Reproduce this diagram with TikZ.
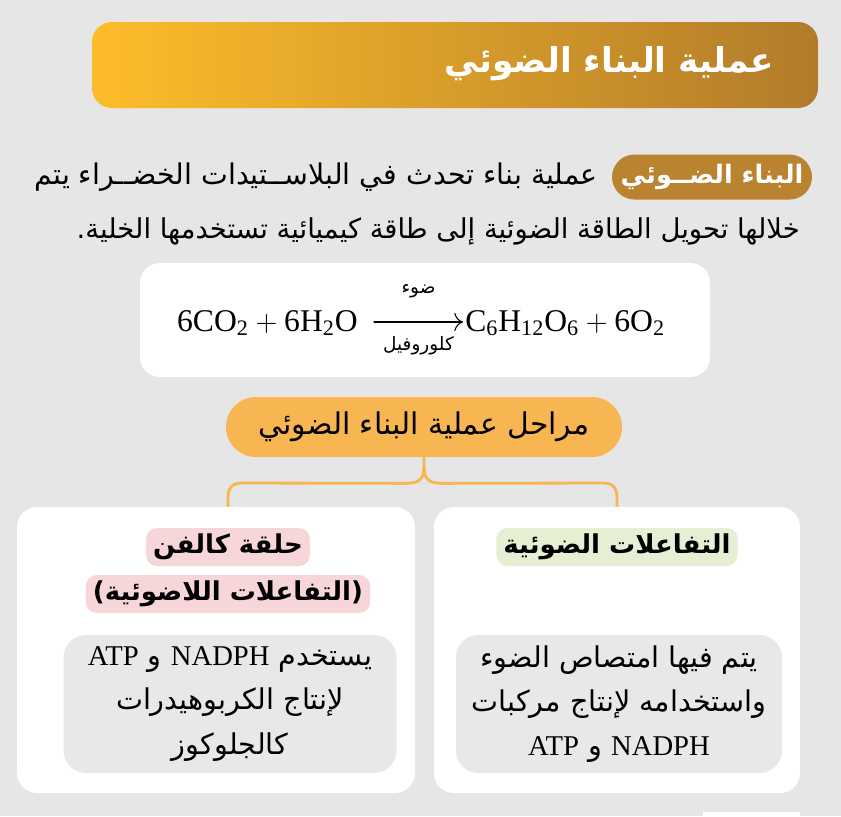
\documentclass[tikz,border=0pt]{standalone}
\usepackage{amsmath}
\usepackage{fontspec}
\setmainfont{Liberation Serif}
\newfontfamily\arabicfont[Script=Arabic]{DejaVu Sans}
\TeXXeTstate=1
\usetikzlibrary{calc,arrows.meta}

\definecolor{bggray}{HTML}{E6E6E6}
\definecolor{goldA}{HTML}{FDBD2A}
\definecolor{goldB}{HTML}{B27B2A}
\definecolor{badgebrown}{HTML}{B9832F}
\definecolor{stageorange}{HTML}{F8B652}
\definecolor{tagpink}{HTML}{F7D6D9}
\definecolor{taggreen}{HTML}{E6EFD4}
\definecolor{innergray}{HTML}{E8E8E8}

\def\px{0.02cm}
\newcommand{\lat}[1]{\beginL{\rmfamily #1}\endL{}}

\begin{document}
\begin{tikzpicture}[x=0.02cm,y=-0.02cm,line join=round,line cap=round,
	whitebox/.style={fill=white,rounded corners=0.4cm,inner sep=0pt},
	graybox/.style={fill=innergray,rounded corners=0.45cm,inner sep=0pt},
	tagbox/.style={rounded corners=0.22cm,inner xsep=4pt,inner ysep=0pt,minimum height=38*\px,
		font=\arabicfont\bfseries\fontsize{14.8}{17}\selectfont},
	bodytext/.style={font=\arabicfont\fontsize{16.2}{18}\selectfont,inner sep=0pt},
	boxtext/.style={font=\arabicfont\fontsize{16.3}{25.2}\selectfont,align=center,inner sep=0pt},
	eqtext/.style={font=\fontsize{18}{22}\selectfont,inner sep=0pt},
	armlabel/.style={font=\arabicfont\fontsize{10.5}{12}\selectfont,inner sep=0pt}]
	% nền
	\useasboundingbox (0,0) rectangle (841,816);
	\fill[bggray] (0,0) rectangle (841,816);
	\fill[white] (703,812) rectangle (800,816);
	% tiêu đề
	\node[rounded corners=0.4cm,left color=goldA,right color=goldB,minimum width=726*\px,minimum height=86*\px] (banner) at (455,65) {};
	\node[anchor=east,text=white,font=\arabicfont\bfseries\fontsize{19.5}{22}\selectfont] (title) at (780,64) {\beginR عملية البناء الضوئي\endR};
	% định nghĩa
	\node[fill=badgebrown,rounded corners=0.45cm,minimum width=200*\px,minimum height=45*\px,text=white,
		font=\arabicfont\bfseries\fontsize{14.5}{18}\selectfont] (badge) at (712,177) {\beginR البناء الضــوئي\endR};
	\node[bodytext,anchor=east] (lineA) at (598,177) {\beginR عملية بناء تحدث في البلاســتيدات الخضــراء يتم\endR};
	\node[bodytext,anchor=east,font=\arabicfont\fontsize{15.6}{18}\selectfont] (lineB) at (800,231) {\beginR خلالها تحويل الطاقة الضوئية إلى طاقة كيميائية تستخدمها الخلية.\endR};
	% phương trình
	\node[whitebox,minimum width=570*\px,minimum height=114*\px] (eqbox) at (425,320) {};
	\node[eqtext,anchor=base east] (lhs) at (358,331) {$\mathrm{6CO_2}+\mathrm{6H_2O}$};
	\node[eqtext,anchor=base west] (rhs) at (465,331) {$\mathrm{C_6H_{12}O_6}+\mathrm{6O_2}$};
	\coordinate (arrA) at (374,322);
	\coordinate (arrB) at (463,322);
	\draw[-{To[length=5pt]},line width=0.6pt] (arrA)--(arrB);
	\node[armlabel] (light) at ($(arrA)!0.5!(arrB)+(0,-31)$) {\beginR ضوء\endR};
	\node[armlabel] (chloro) at ($(arrA)!0.5!(arrB)+(0,24)$) {\beginR كلوروفيل\endR};
	% các giai đoạn
	\node[fill=stageorange,rounded corners=0.6cm,minimum width=396*\px,minimum height=60*\px,
		font=\arabicfont\fontsize{17}{20}\selectfont] (stages) at (424,427) {\beginR مراحل عملية البناء الضوئي\endR};
	\coordinate (fork) at ($(stages.south)+(0,9)$);
	\draw[stageorange,line width=1.6pt] (stages.south)--(fork)
		.. controls ($(fork)+(0,14)$) and ($(fork)+(-6,17)$) .. ($(fork)+(-19,17)$)
		-- (242,483) .. controls (232,483) and (228,488) .. (228,498) -- (228,515);
	\draw[stageorange,line width=1.6pt] (fork)
		.. controls ($(fork)+(0,14)$) and ($(fork)+(6,17)$) .. ($(fork)+(19,17)$)
		-- (603,483) .. controls (613,483) and (617,488) .. (617,498) -- (617,515);
	% hộp trái
	\node[whitebox,minimum width=398*\px,minimum height=286*\px] (leftbox) at (216,650) {};
	\node[tagbox,fill=tagpink] (calvin) at (228,547) {\beginR حلقة كالفن\endR};
	\node[tagbox,fill=tagpink] (dark) at (228,594) {\beginR (التفاعلات اللاضوئية)\endR};
	\node[graybox,minimum width=333*\px,minimum height=138*\px] (leftinner) at (230,704) {};
	\node[boxtext] (lefttext) at (leftinner) {\beginR يستخدم \lat{NADPH} و \lat{ATP}\endR\\
		\beginR لإنتاج الكربوهيدرات\endR\\ \beginR كالجلوكوز\endR};
	% hộp phải
	\node[whitebox,minimum width=366*\px,minimum height=286*\px] (rightbox) at (617,650) {};
	\node[tagbox,fill=taggreen] (lightrx) at (617,547) {\beginR التفاعلات الضوئية\endR};
	\node[graybox,minimum width=326*\px,minimum height=138*\px] (rightinner) at (619,704) {};
	\node[boxtext] (righttext) at (rightinner) {\beginR يتم فيها امتصاص الضوء\endR\\
		\beginR واستخدامه لإنتاج مركبات\endR\\ \beginR\lat{NADPH} و \lat{ATP}\endR};
\end{tikzpicture}
\end{document}
